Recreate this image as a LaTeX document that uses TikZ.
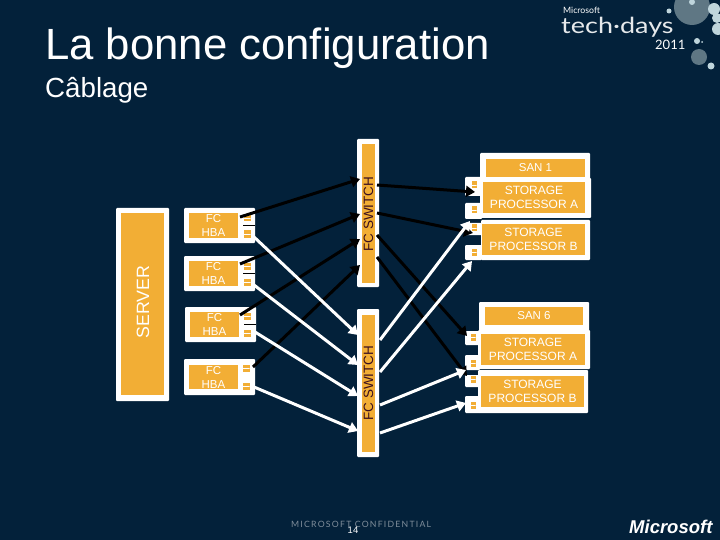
\documentclass[tikz,border=0pt]{standalone}
\usepackage{fontspec}
\setmainfont{Liberation Sans}
\newfontfamily\logofont{Lato}
\newfontfamily\spacedfont[LetterSpace=14]{Lato}
\usetikzlibrary{arrows.meta}
\definecolor{bgc}{HTML}{03213A}
\definecolor{org}{HTML}{F2AE35}
\definecolor{swtxt}{HTML}{3A0F20}
\definecolor{lgrey}{HTML}{5F7784}
\definecolor{lpale}{HTML}{BFD5DC}
\definecolor{ctxt}{HTML}{7F8D9A}
\tikzset{
  frame/.style={fill=white,rounded corners=1pt,draw=none},
  panel/.style={fill=org,draw=none,text=white,align=center,font=\fontsize{11.5}{14}\selectfont,inner sep=0pt},
  sppanel/.style={panel,font=\fontsize{12}{14}\selectfont},
  portglyph/.style={fill=org,draw=none,minimum width=7pt,minimum height=7pt,inner sep=0pt,
    path picture={\draw[white,line width=.7pt] (path picture bounding box.west) -- (path picture bounding box.east);}},
  blk/.style={draw=black,line width=3pt,-{Triangle[length=9pt,width=11pt]}},
  wht/.style={draw=white,line width=3pt,-{Triangle[length=9pt,width=11pt]}},
  divider/.style={draw=black,line width=.7pt}
}
% name, x1, y1, x2, y2, options, text : a node filling the given pixel box
\newcommand{\bx}[7]{%
  \pgfmathsetmacro{\cxx}{(#2+#4)/2}\pgfmathsetmacro{\cyy}{(#3+#5)/2}%
  \pgfmathsetmacro{\wdd}{#4-#2}\pgfmathsetmacro{\htt}{#5-#3}%
  \node[#6,minimum width=\wdd pt,minimum height=\htt pt] (#1) at (\cxx,\cyy) {#7};}
\begin{document}
\begin{tikzpicture}[x=1pt,y=-1pt]
\useasboundingbox (0,0) rectangle (720,540);
\fill[bgc] (0,0) rectangle (720,540);

% titles
\node[anchor=base west,text=white,inner sep=0pt,font=\fontsize{43.7}{44}\selectfont] (title) at (45,60) {La bonne configuration};
\node[anchor=base west,text=white,inner sep=0pt,font=\fontsize{27.7}{28}\selectfont] (sub) at (45,98) {Câblage};

% logo
\fill[lgrey] (692,7) circle (18);
\fill[lpale] (692,2) circle (3);
\fill[lpale] (669,11) circle (2.5);
\fill[lpale] (714,9) circle (6);
\fill[lpale] (717,18) circle (5);
\fill[lpale] (718,29) circle (6);
\fill[lpale] (697,41) circle (3);
\fill[lpale] (702,42) circle (1);
\fill[lgrey] (699,57) circle (8);
\fill[lpale] (711,66) circle (3.5);
\node[anchor=base west,text=white,inner sep=0pt,font=\logofont\fontsize{8.7}{9}\selectfont] (ms) at (563,14) {Microsoft};
\node[anchor=base west,text=white!90!bgc,inner sep=0pt,font=\logofont\fontsize{27}{27}\selectfont] (td) at (561,34) {\scalebox{1}[0.82]{tech·days}};
\node[anchor=base west,text=white,inner sep=0pt,font=\logofont\fontsize{13}{13}\selectfont] (yr) at (655,50) {2011};

% server
\bx{srvo}{116}{208}{169}{401}{frame}{}
\bx{srv}{121}{213}{164}{395}{panel}{}
\node[rotate=90,text=white,font=\fontsize{17.8}{18}\selectfont,inner sep=0pt] (srvt) at (143,302) {SERVER};

% HBAs
\bx{h1o}{184}{208}{255}{243}{frame}{}
\bx{h1}{189}{213}{238}{238}{panel}{FC\\HBA}
\bx{h2o}{184}{256}{255}{291}{frame}{}
\bx{h2}{189}{261}{238}{286}{panel}{FC\\HBA}
\bx{h3o}{185}{307}{256}{342}{frame}{}
\bx{h3}{190}{312}{239}{337}{panel}{FC\\HBA}
\bx{h4o}{184}{359}{255}{395}{frame}{}
\bx{h4}{189}{365}{238}{389}{panel}{FC\\HBA}
\draw[divider] (243,225.5) -- (255,225.5);
\draw[divider] (243,273.5) -- (255,273.5);
\draw[divider] (244,324.5) -- (256,324.5);
\node[portglyph] (ph1a) at (247,218) {};
\node[portglyph] (ph1b) at (247,234) {};
\node[portglyph] (ph2a) at (247,266) {};
\node[portglyph] (ph2b) at (247,282) {};
\node[portglyph] (ph3a) at (247,316) {};
\node[portglyph] (ph3b) at (247,333) {};
\node[portglyph] (ph4a) at (246,368) {};
\node[portglyph] (ph4b) at (246,386) {};

% switches
\bx{s1o}{357}{139}{379}{287}{frame}{}
\bx{s1}{362}{144}{375}{283}{panel}{}
\node[rotate=90,text=swtxt,font=\fontsize{13.5}{14}\selectfont,inner sep=0pt] (s1t) at (368.5,214) {FC SWITCH};
\bx{s2o}{357}{309}{379}{457}{frame}{}
\bx{s2}{362}{315}{375}{452}{panel}{}
\node[rotate=90,text=swtxt,font=\fontsize{13.5}{14}\selectfont,inner sep=0pt] (s2t) at (368.5,383) {FC SWITCH};

% SAN 1
\bx{san1o}{480}{153}{590}{182}{frame}{}
\bx{san1}{486}{159}{585}{177}{panel}{SAN 1}
\bx{pa1}{465}{177}{482}{196}{frame}{}
\bx{pa2}{465}{203}{482}{219}{frame}{}
\bx{pb1}{465}{223}{482}{235}{frame}{}
\bx{pb2}{465}{245}{482}{260}{frame}{}
\bx{a1o}{480}{178}{591}{218}{frame}{}
\bx{a1}{483}{182}{585}{213}{sppanel}{STORAGE\\PROCESSOR A}
\bx{b1o}{481}{220}{590}{260}{frame}{}
\bx{b1}{482}{224}{585}{255}{sppanel}{STORAGE\\PROCESSOR B}
\node[portglyph,minimum width=5pt] (pga1) at (474,185) {};
\node[portglyph,minimum width=5pt] (pga2) at (474,210) {};
\node[portglyph,minimum width=5pt] (pgb1) at (474,228) {};
\node[portglyph,minimum width=5pt] (pgb2) at (474,252) {};

% SAN 6
\bx{san6o}{479}{302}{589}{331}{frame}{}
\bx{san6}{485}{307}{583}{325}{panel}{SAN 6}
\bx{qa1}{465}{331}{480}{345}{frame}{}
\bx{qa2}{465}{355}{480}{370}{frame}{}
\bx{qb1}{465}{375}{480}{387}{frame}{}
\bx{qb2}{465}{396}{480}{413}{frame}{}
\bx{a6o}{478}{330}{590}{369}{frame}{}
\bx{a6}{481}{334}{585}{365}{sppanel}{STORAGE\\PROCESSOR A}
\bx{b6o}{478}{370}{588}{413}{frame}{}
\bx{b6}{481}{376}{584}{407}{sppanel}{STORAGE\\PROCESSOR B}
\node[portglyph,minimum width=5pt] (qga1) at (473,337) {};
\node[portglyph,minimum width=5pt] (qga2) at (473,363) {};
\node[portglyph,minimum width=5pt] (qgb1) at (473,379) {};
\node[portglyph,minimum width=5pt] (qgb2) at (473,405) {};

% connector ends
\coordinate (c1) at (240,217); \coordinate (c2) at (240,264);
\coordinate (c3) at (240,315); \coordinate (c4) at (253,367);
\coordinate (d1) at (254,237); \coordinate (d2) at (254,285);
\coordinate (d3) at (255,332); \coordinate (d4) at (254,387);
\coordinate (t1) at (360,179); \coordinate (t2) at (360,214);
\coordinate (t3) at (360,239); \coordinate (t4) at (360,265);
\coordinate (u1) at (358,335); \coordinate (u2) at (358,365);
\coordinate (u3) at (358,396); \coordinate (u4) at (358,431);
\coordinate (e1) at (377,185); \coordinate (e2) at (377,213);
\coordinate (e3) at (377,235); \coordinate (e4) at (377,257);
\coordinate (f1) at (380,340); \coordinate (f2) at (380,372);
\coordinate (f3) at (380,405); \coordinate (f4) at (380,433);
\coordinate (g1) at (475,192); \coordinate (g2) at (473,233);
\coordinate (g3) at (467,336); \coordinate (g4) at (467,376);
\coordinate (k1) at (470,221); \coordinate (k2) at (472,261);
\coordinate (k3) at (466,370); \coordinate (k4) at (466,403);

% connectors
\draw[blk] (c1) -- (t1);
\draw[blk] (c2) -- (t2);
\draw[blk] (c3) -- (t3);
\draw[blk] (c4) -- (t4);
\draw[blk] (e1) -- (g1);
\draw[blk] (e2) -- (g2);
\draw[blk] (e3) -- (g3);
\draw[blk] (e4) -- (g4);
\draw[wht] (d1) -- (u1);
\draw[wht] (d2) -- (u2);
\draw[wht] (d3) -- (u3);
\draw[wht] (d4) -- (u4);
\draw[wht] (f1) -- (k1);
\draw[wht] (f2) -- (k2);
\draw[wht] (f3) -- (k3);
\draw[wht] (f4) -- (k4);

% footer
\node[anchor=base west,text=ctxt,inner sep=0pt,font=\spacedfont\fontsize{8.7}{9}\selectfont] (conf) at (291,527) {MICROSOFT CONFIDENTIAL};
\node[text=white,inner sep=0pt,font=\fontsize{9.5}{10}\selectfont] (pg) at (353,530) {14};
\node[anchor=base west,text=white,inner sep=0pt,font=\bfseries\itshape\fontsize{18.5}{19}\selectfont] (mslogo) at (629,533) {Microsoft};
\end{tikzpicture}
\end{document}
